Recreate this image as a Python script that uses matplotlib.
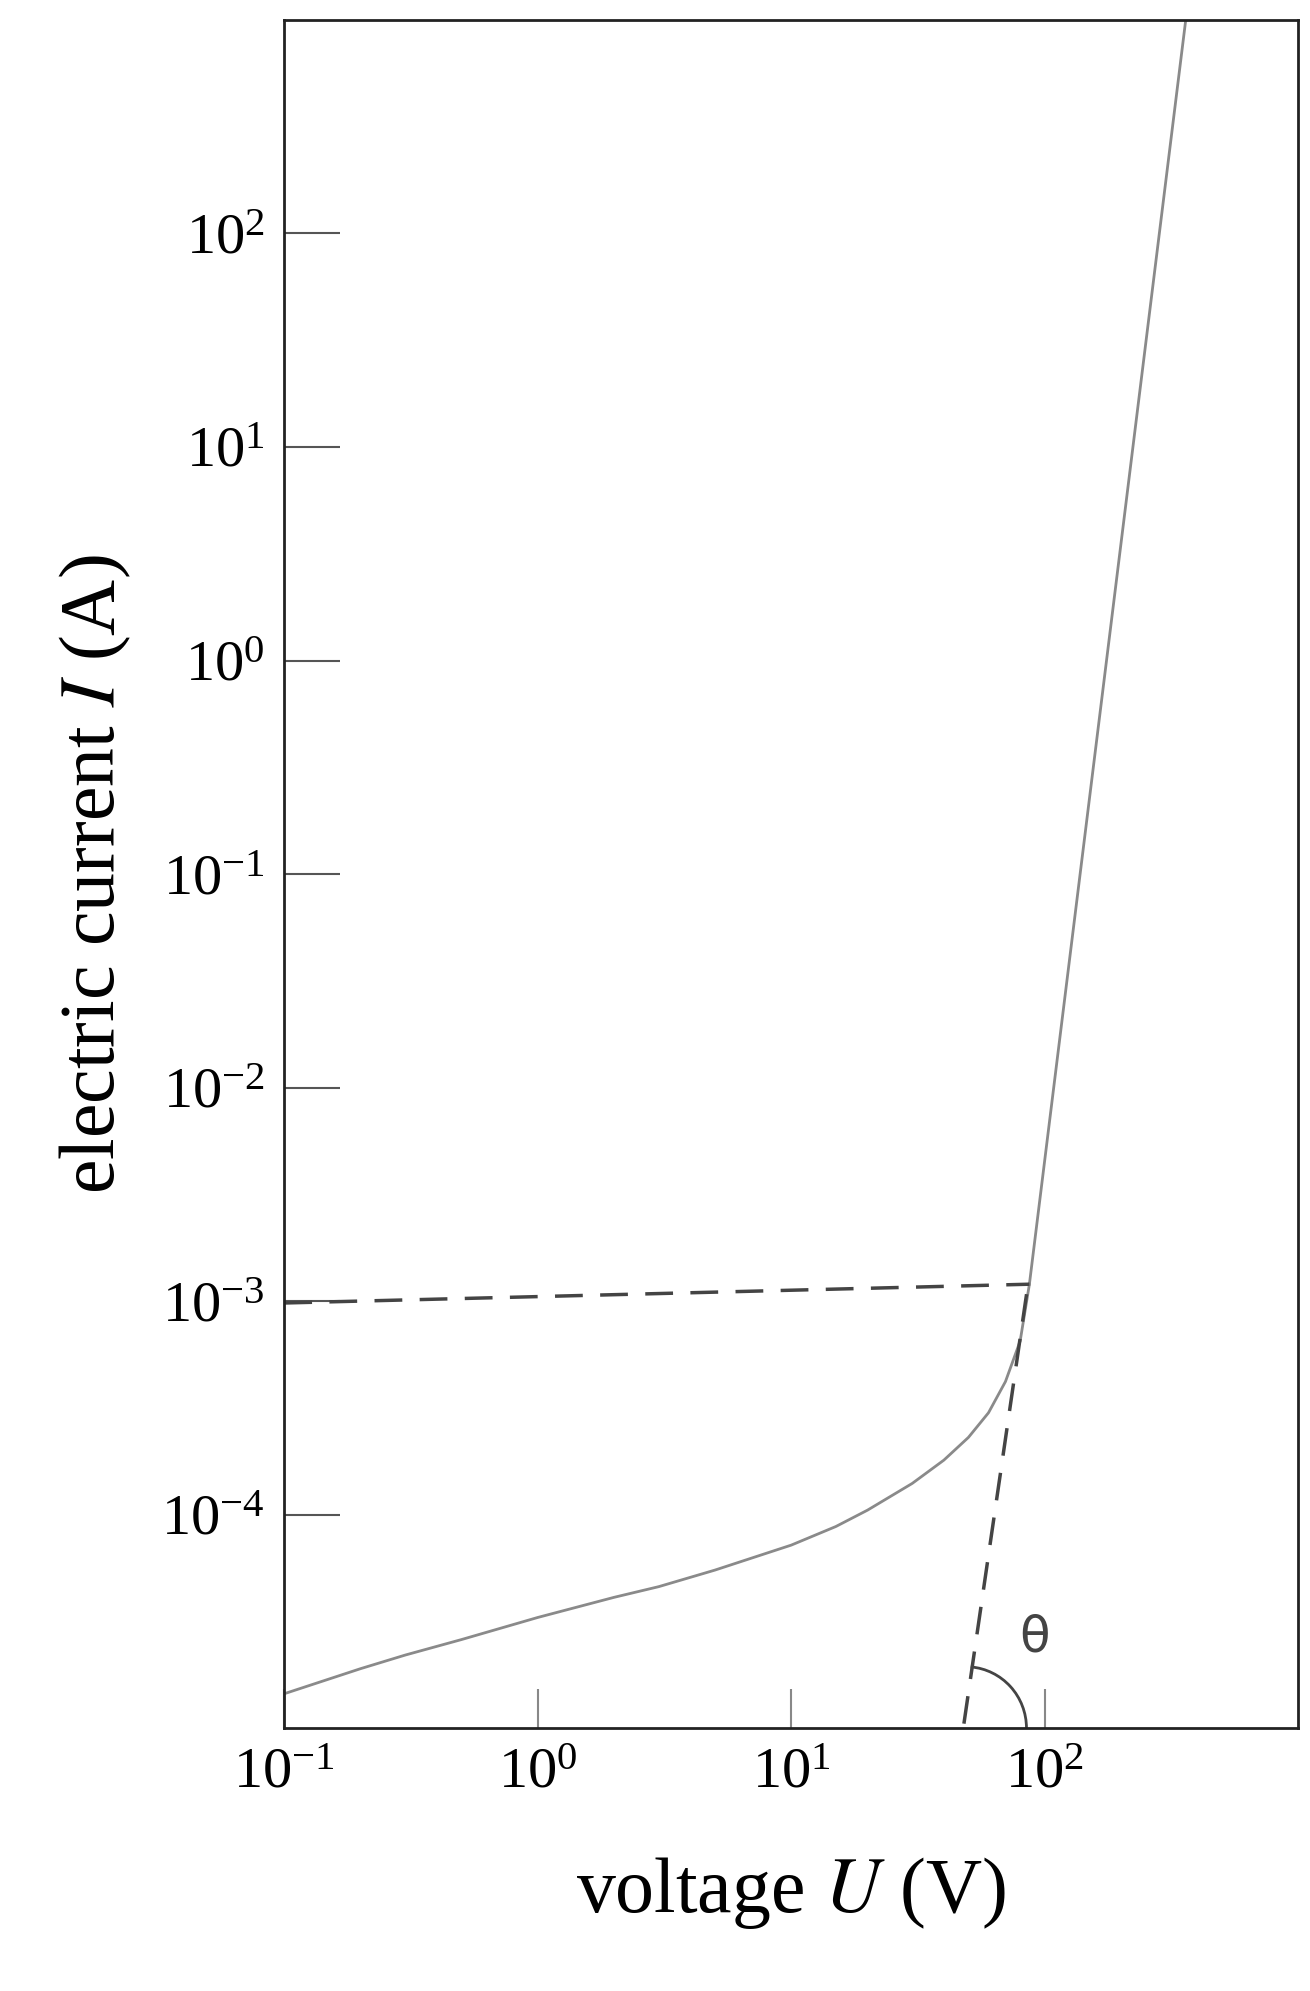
import numpy as np
import matplotlib.pyplot as plt
from matplotlib.patches import Arc

plt.rcParams['font.family'] = ['Liberation Serif', 'DejaVu Serif']
plt.rcParams['mathtext.fontset'] = 'stix'

# low-voltage curve
u_curve = [0.1, 0.2, 0.3, 0.5, 1, 2, 3, 5, 10, 15, 20, 30, 40, 50, 60, 70, 80, 87]
i_curve = [1.45e-5, 1.9e-5, 2.2e-5, 2.6e-5, 3.3e-5, 4.1e-5, 4.6e-5, 5.5e-5,
           7.2e-5, 8.8e-5, 1.05e-4, 1.4e-4, 1.8e-4, 2.3e-4, 3.0e-4, 4.2e-4, 6.5e-4, 1.2e-3]
# steep part
u_steep = [87, 360]
i_steep = [1.2e-3, 1e3]
# construction lines
u_hdash = [0.1, 87]
i_hdash = [0.98e-3, 1.2e-3]
u_vdash = [48, 85]
i_vdash = [1.05e-5, 1.1e-3]

yticks = [1e-4, 1e-3, 1e-2, 1e-1, 1e0, 1e1, 1e2]
xticks = [1e-1, 1e0, 1e1, 1e2]

fig = plt.figure(figsize=(13.1, 19.91), dpi=100)
ax = fig.add_axes([0.217, 0.132, 0.774, 0.858])
ax.set_xscale('log')
ax.set_yscale('log')
ax.set_xlim(0.1, 1000)
ax.set_ylim(1e-5, 1e3)

ax.plot(u_curve, i_curve, color='#8a8a8a', lw=2)
ax.plot(u_steep, i_steep, color='#8a8a8a', lw=2)
ax.plot(u_hdash, i_hdash, color='#444444', lw=2.5, dashes=(8, 5))
ax.plot(u_vdash, i_vdash, color='#444444', lw=2.5, dashes=(8, 5))

ax.add_patch(Arc((0.672, 0.0), 0.12, 0.072, theta1=0, theta2=82,
                 transform=ax.transAxes, color='#444444', lw=2))
ax.text(0.725, 0.045, 'θ', transform=ax.transAxes, fontsize=36,
        family=['DejaVu Sans'], color='#444444')

ax.minorticks_off()
ax.set_yticks(yticks)
ax.set_yticklabels([r'$\mathregular{10^{%d}}$' % int(np.log10(v)) for v in yticks])
ax.set_xticks(xticks)
ax.set_xticklabels([r'$\mathregular{10^{%d}}$' % int(np.log10(v)) for v in xticks])
ax.tick_params(axis='y', direction='in', length=40, width=1.5, color='#555555',
               labelsize=42, pad=14)
ax.tick_params(axis='x', direction='in', length=28, width=1.5, color='#888888',
               labelsize=42, pad=14)
for s in ax.spines.values():
    s.set_linewidth(2)
    s.set_color('#222222')

ax.set_xlabel(r'voltage $\it{U}$ (V)', fontsize=56, labelpad=40)
ax.set_ylabel(r'electric current $\it{I}$ (A)', fontsize=56, labelpad=20)

fig.savefig('out.png')
